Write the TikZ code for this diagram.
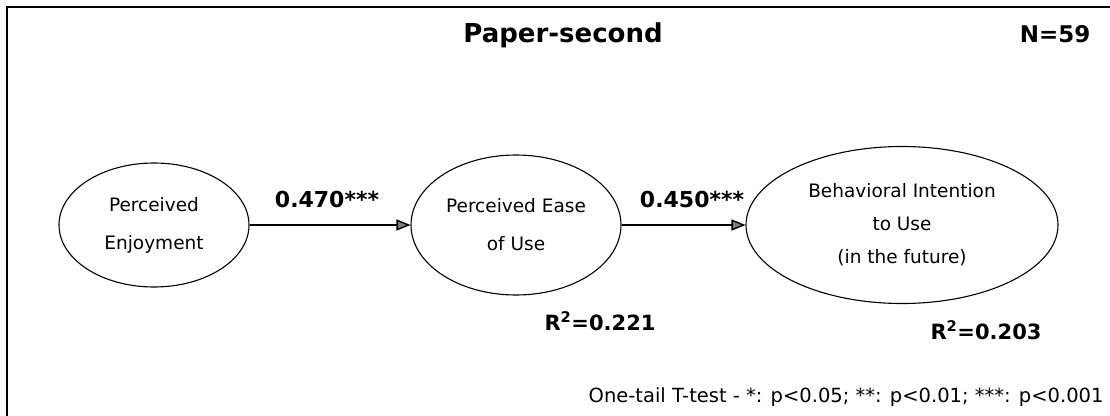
\documentclass[tikz,border=0pt]{standalone}
\usepackage{fontspec}
\setmainfont{DejaVu Sans}
\usetikzlibrary{shapes.geometric,arrows.meta}

\begin{document}
\begin{tikzpicture}[x=1pt, y=-1pt,
    construct/.style={draw, line width=1.1pt, ellipse, inner sep=0pt, align=center, font=\fontsize{18.5}{38}\selectfont},
    effect/.style={draw, line width=1.4pt, -{Triangle[length=14pt, width=11pt, fill=gray]}},
    coef/.style={anchor=base, font=\fontsize{22}{24}\selectfont\bfseries},
    rsq/.style={anchor=base, font=\fontsize{21}{24}\selectfont\bfseries}]
    \useasboundingbox (0, 0) rectangle (1110, 415);
    \draw[line width=2pt] (1120, 7) -- (7, 7) -- (7, 425);

    \node[anchor=base, font=\fontsize{26}{28}\selectfont\bfseries] (title) at (563, 42) {Paper-second};
    \node[anchor=base, font=\fontsize{23}{26}\selectfont\bfseries] (samplesize) at (1055, 42) {N=59};

    \node[construct, minimum width=190, minimum height=124] (enjoy) at (154, 225) {Perceived\\Enjoyment};
    \node[construct, minimum width=210, minimum height=140] (ease) at (516, 225) {Perceived Ease\\of Use};
    \node[construct, minimum width=312, minimum height=157, font=\fontsize{18.5}{33}\selectfont] (intent) at (902, 225) {Behavioral Intention\\to Use\\(in the future)};

    \draw[effect] (enjoy.east) -- (ease.west);
    \draw[effect] (ease.east) -- (intent.west);

    \node[coef] (coefA) at (327, 207) {0.470***};
    \node[coef] (coefB) at (692, 207) {0.450***};
    \node[rsq] (rsqA) at (600, 330) {R$^{\mathbf{2}}$=0.221};
    \node[rsq] (rsqB) at (986, 339) {R$^{\mathbf{2}}$=0.203};

    \node[anchor=base east, font=\fontsize{19.5}{22}\selectfont] (note) at (1107, 402) {One-tail T-test - *: p<0.05; **: p<0.01; ***: p<0.001};
\end{tikzpicture}
\end{document}
